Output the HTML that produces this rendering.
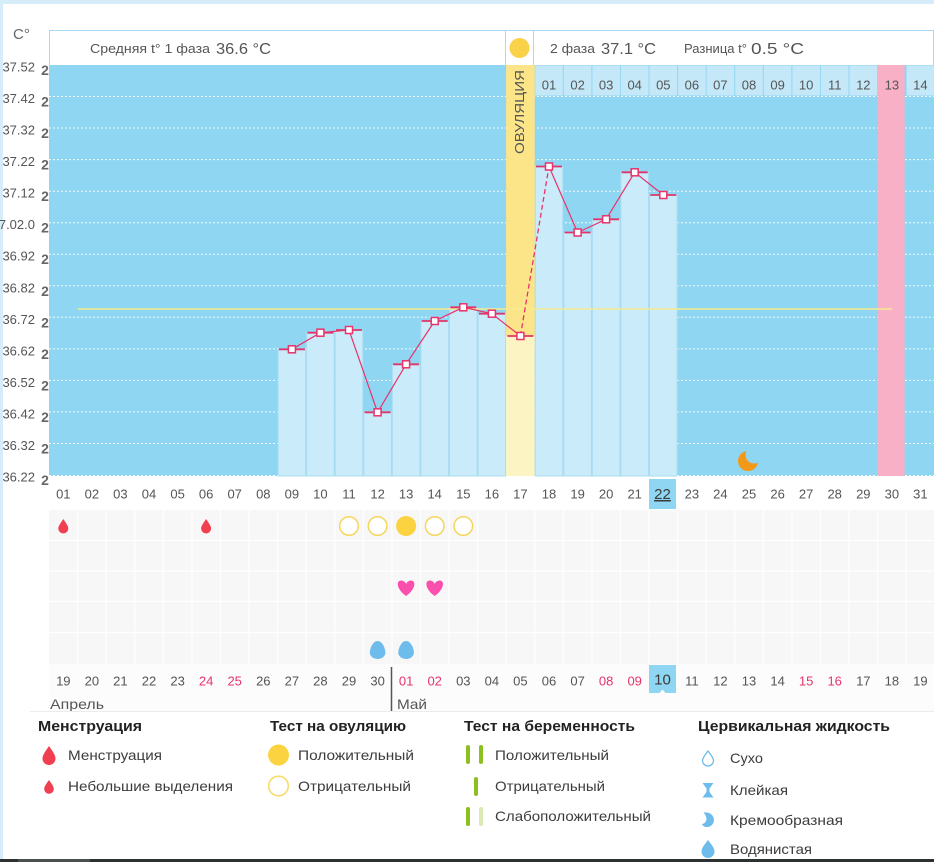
<!DOCTYPE html>
<html><head><meta charset="utf-8"><style>
html,body{margin:0;padding:0;background:#fff;}
svg{display:block;}
text{font-family:"Liberation Sans","DejaVu Sans",sans-serif;}
</style></head><body>
<svg width="934" height="862" viewBox="0 0 934 862" xmlns="http://www.w3.org/2000/svg">
<defs>
<mask id="moonm"><rect x="730" y="440" width="40" height="40" fill="#fff"/><circle cx="754" cy="455" r="8.5" fill="#000"/></mask>
</defs>
<!-- frame -->
<rect x="0" y="0" width="934" height="862" fill="#fff"/>
<rect x="0" y="0" width="934" height="4" fill="#d6edf9"/>
<rect x="0" y="0" width="3" height="859" fill="#d6edf9"/>
<rect x="0" y="859" width="934" height="3" fill="#2d3131"/>
<rect x="18" y="859" width="72" height="3" fill="#4a4f4f"/>

<!-- C° -->
<text x="13" y="39" font-size="15" fill="#666">C°</text>

<!-- header box -->
<rect x="49.5" y="30.5" width="884" height="35" fill="#fff" stroke="#a8dbf1" stroke-width="1"/>
<line x1="505.5" y1="30" x2="505.5" y2="65" stroke="#a8dbf1"/>
<line x1="533.5" y1="30" x2="533.5" y2="65" stroke="#a8dbf1"/>
<circle cx="519.5" cy="48" r="10" fill="#f9d24a"/>
<text x="90" y="53" font-size="13" fill="#555" textLength="120" lengthAdjust="spacingAndGlyphs">Средняя t° 1 фаза</text>
<text x="216" y="54" font-size="16" fill="#555" textLength="55" lengthAdjust="spacingAndGlyphs">36.6 °C</text>
<text x="550" y="53" font-size="13" fill="#555" textLength="45" lengthAdjust="spacingAndGlyphs">2 фаза</text>
<text x="601" y="54" font-size="16" fill="#555" textLength="55" lengthAdjust="spacingAndGlyphs">37.1 °C</text>
<text x="684" y="53" font-size="13" fill="#555" textLength="63" lengthAdjust="spacingAndGlyphs">Разница t°</text>
<text x="751" y="54" font-size="16" fill="#555" textLength="53" lengthAdjust="spacingAndGlyphs">0.5 °C</text>

<!-- plot background -->
<rect x="49" y="65" width="885" height="411" fill="#8fd6f2"/>

<!-- dotted grid -->
<g stroke="#ffffff" stroke-width="1" stroke-dasharray="2 2" opacity="0.9">
<line x1="49" y1="96.5" x2="934" y2="96.5"/>
<line x1="49" y1="128" x2="934" y2="128"/>
<line x1="49" y1="159.6" x2="934" y2="159.6"/>
<line x1="49" y1="191.2" x2="934" y2="191.2"/>
<line x1="49" y1="222.7" x2="934" y2="222.7"/>
<line x1="49" y1="254.2" x2="934" y2="254.2"/>
<line x1="49" y1="285.8" x2="934" y2="285.8"/>
<line x1="49" y1="317.3" x2="934" y2="317.3"/>
<line x1="49" y1="348.9" x2="934" y2="348.9"/>
<line x1="49" y1="380.4" x2="934" y2="380.4"/>
<line x1="49" y1="411.9" x2="934" y2="411.9"/>
<line x1="49" y1="443.5" x2="934" y2="443.5"/>
<line x1="49" y1="475.5" x2="934" y2="475.5"/>
</g>

<!-- pink column 30 -->
<rect x="877.6" y="65" width="27" height="411" fill="#f8b0c6"/>

<!-- phase 2 top cells -->
<g fill="#c4e8f8">
<rect x="535.2" y="65.5" width="27.6" height="30"/>
<rect x="563.8" y="65.5" width="27.6" height="30"/>
<rect x="592.4" y="65.5" width="27.6" height="30"/>
<rect x="620.9" y="65.5" width="27.6" height="30"/>
<rect x="649.5" y="65.5" width="27.6" height="30"/>
<rect x="678.1" y="65.5" width="27.6" height="30"/>
<rect x="706.6" y="65.5" width="27.6" height="30"/>
<rect x="735.2" y="65.5" width="27.6" height="30"/>
<rect x="763.8" y="65.5" width="27.6" height="30"/>
<rect x="792.4" y="65.5" width="27.6" height="30"/>
<rect x="820.9" y="65.5" width="27.6" height="30"/>
<rect x="849.5" y="65.5" width="27.6" height="30"/>
<rect x="906.6" y="65.5" width="27.4" height="30"/>
</g>
<g font-size="13" fill="#555" text-anchor="middle">
<text x="549" y="89.5">01</text>
<text x="577.6" y="89.5">02</text>
<text x="606.1" y="89.5">03</text>
<text x="634.7" y="89.5">04</text>
<text x="663.3" y="89.5">05</text>
<text x="691.9" y="89.5">06</text>
<text x="720.4" y="89.5">07</text>
<text x="749" y="89.5">08</text>
<text x="777.6" y="89.5">09</text>
<text x="806.1" y="89.5">10</text>
<text x="834.7" y="89.5">11</text>
<text x="863.3" y="89.5">12</text>
<text x="891.9" y="89.5">13</text>
<text x="920.4" y="89.5">14</text>
</g>

<!-- bars -->
<g fill="#c9ebfa" stroke="#aadcf1" stroke-width="1">
<rect x="278.1" y="349.3" width="27.6" height="126.7"/>
<rect x="306.6" y="332.7" width="27.6" height="143.3"/>
<rect x="335.2" y="330" width="27.6" height="146"/>
<rect x="363.8" y="412.3" width="27.6" height="63.7"/>
<rect x="392.4" y="364.3" width="27.6" height="111.7"/>
<rect x="420.9" y="321" width="27.6" height="155"/>
<rect x="449.5" y="307.3" width="27.6" height="168.7"/>
<rect x="478.1" y="313.7" width="27.6" height="162.3"/>
<rect x="535.2" y="166.5" width="27.6" height="309.5"/>
<rect x="563.8" y="232.5" width="27.6" height="243.5"/>
<rect x="592.4" y="219.3" width="27.6" height="256.7"/>
<rect x="620.9" y="172.3" width="27.6" height="303.7"/>
<rect x="649.5" y="195" width="27.6" height="281"/>
</g>

<!-- ovulation column -->
<rect x="506.1" y="65" width="28.6" height="271" fill="#fce589"/>
<rect x="506.1" y="336" width="28.6" height="140" fill="#fdf4c4"/>
<text transform="translate(524,112) rotate(-90)" text-anchor="middle" font-size="12.5" fill="#555" textLength="84" lengthAdjust="spacingAndGlyphs">ОВУЛЯЦИЯ</text>

<!-- cover line -->
<line x1="78" y1="309" x2="892" y2="309" stroke="#f5eb8e" stroke-width="1.6"/>

<!-- temperature line -->
<polyline points="291.9,349.3 320.4,332.7 349,330 377.6,412.3 406.1,364.3 434.7,321 463.3,307.3 491.9,313.7 520.4,336" fill="none" stroke="#e8336b" stroke-width="1.2"/>
<line x1="520.4" y1="336" x2="549" y2="166.5" stroke="#e8336b" stroke-width="1.3" stroke-dasharray="5 3"/>
<polyline points="549,166.5 577.6,232.5 606.1,219.3 634.7,172.3 663.3,195" fill="none" stroke="#e8336b" stroke-width="1.2"/>
<g stroke="#e0356a" stroke-width="1.8">
<line x1="278.9" y1="349.3" x2="304.9" y2="349.3"/>
<line x1="307.4" y1="332.7" x2="333.4" y2="332.7"/>
<line x1="336" y1="330" x2="362" y2="330"/>
<line x1="364.6" y1="412.3" x2="390.6" y2="412.3"/>
<line x1="393.1" y1="364.3" x2="419.1" y2="364.3"/>
<line x1="421.7" y1="321" x2="447.7" y2="321"/>
<line x1="450.3" y1="307.3" x2="476.3" y2="307.3"/>
<line x1="478.9" y1="313.7" x2="504.9" y2="313.7"/>
<line x1="507.4" y1="336" x2="533.4" y2="336"/>
<line x1="536" y1="166.5" x2="562" y2="166.5"/>
<line x1="564.6" y1="232.5" x2="590.6" y2="232.5"/>
<line x1="593.1" y1="219.3" x2="619.1" y2="219.3"/>
<line x1="621.7" y1="172.3" x2="647.7" y2="172.3"/>
<line x1="650.3" y1="195" x2="676.3" y2="195"/>
</g>
<g fill="#fff" stroke="#e8336b" stroke-width="1.5">
<rect x="288.4" y="345.8" width="7" height="7"/>
<rect x="316.9" y="329.2" width="7" height="7"/>
<rect x="345.5" y="326.5" width="7" height="7"/>
<rect x="374.1" y="408.8" width="7" height="7"/>
<rect x="402.6" y="360.8" width="7" height="7"/>
<rect x="431.2" y="317.5" width="7" height="7"/>
<rect x="459.8" y="303.8" width="7" height="7"/>
<rect x="488.4" y="310.2" width="7" height="7"/>
<rect x="516.9" y="332.5" width="7" height="7"/>
<rect x="545.5" y="163" width="7" height="7"/>
<rect x="574.1" y="229" width="7" height="7"/>
<rect x="602.6" y="215.8" width="7" height="7"/>
<rect x="631.2" y="168.8" width="7" height="7"/>
<rect x="659.8" y="191.5" width="7" height="7"/>
</g>

<!-- moon -->
<circle cx="748" cy="461" r="10" fill="#f29a17" mask="url(#moonm)"/>

<!-- y labels -->
<g font-size="13" fill="#555" text-anchor="end">
<text x="35" y="71.5">37.52</text>
<text x="35" y="103">37.42</text>
<text x="35" y="134.6">37.32</text>
<text x="35" y="166.1">37.22</text>
<text x="35" y="197.7">37.12</text>
<text x="35" y="229.2">7.02.0</text>
<text x="35" y="260.7">36.92</text>
<text x="35" y="292.3">36.82</text>
<text x="35" y="323.8">36.72</text>
<text x="35" y="355.4">36.62</text>
<text x="35" y="386.9">36.52</text>
<text x="35" y="418.4">36.42</text>
<text x="35" y="450">36.32</text>
<text x="35" y="481.5">36.22</text>
</g>
<g font-size="14" fill="#666" text-anchor="middle" font-weight="bold">
<text x="45" y="75">2</text>
<text x="45" y="106.5">2</text>
<text x="45" y="138">2</text>
<text x="45" y="169.6">2</text>
<text x="45" y="201.2">2</text>
<text x="45" y="232.7">2</text>
<text x="45" y="264.2">2</text>
<text x="45" y="295.8">2</text>
<text x="45" y="327.3">2</text>
<text x="45" y="358.9">2</text>
<text x="45" y="390.4">2</text>
<text x="45" y="421.9">2</text>
<text x="45" y="453.5">2</text>
<text x="45" y="485">2</text>
</g>

<!-- x axis labels -->
<rect x="649" y="479" width="27" height="30" fill="#8fd6f2"/>
<g font-size="13" fill="#555" text-anchor="middle">
<text x="63.3" y="498.5">01</text>
<text x="91.9" y="498.5">02</text>
<text x="120.4" y="498.5">03</text>
<text x="149" y="498.5">04</text>
<text x="177.6" y="498.5">05</text>
<text x="206.1" y="498.5">06</text>
<text x="234.7" y="498.5">07</text>
<text x="263.3" y="498.5">08</text>
<text x="291.9" y="498.5">09</text>
<text x="320.4" y="498.5">10</text>
<text x="349" y="498.5">11</text>
<text x="377.6" y="498.5">12</text>
<text x="406.1" y="498.5">13</text>
<text x="434.7" y="498.5">14</text>
<text x="463.3" y="498.5">15</text>
<text x="491.9" y="498.5">16</text>
<text x="520.4" y="498.5">17</text>
<text x="549" y="498.5">18</text>
<text x="577.6" y="498.5">19</text>
<text x="606.1" y="498.5">20</text>
<text x="634.7" y="498.5">21</text>
<text x="691.9" y="498.5">23</text>
<text x="720.4" y="498.5">24</text>
<text x="749" y="498.5">25</text>
<text x="777.6" y="498.5">26</text>
<text x="806.1" y="498.5">27</text>
<text x="834.7" y="498.5">28</text>
<text x="863.3" y="498.5">29</text>
<text x="891.9" y="498.5">30</text>
<text x="920.4" y="498.5">31</text>
</g>
<text x="662.5" y="499" font-size="15" fill="#3a3a3a" text-anchor="middle" text-decoration="underline">22</text>

<!-- faint grid -->
<rect x="49" y="510" width="885" height="154" fill="#f7f7f7"/>
<g stroke="#fff" stroke-width="1.2">
<line x1="49" y1="540.5" x2="934" y2="540.5"/>
<line x1="49" y1="571" x2="934" y2="571"/>
<line x1="49" y1="601.5" x2="934" y2="601.5"/>
<line x1="49" y1="632.5" x2="934" y2="632.5"/>
<line x1="77.6" y1="510" x2="77.6" y2="664"/>
<line x1="106.1" y1="510" x2="106.1" y2="664"/>
<line x1="134.7" y1="510" x2="134.7" y2="664"/>
<line x1="163.3" y1="510" x2="163.3" y2="664"/>
<line x1="191.9" y1="510" x2="191.9" y2="664"/>
<line x1="220.4" y1="510" x2="220.4" y2="664"/>
<line x1="249" y1="510" x2="249" y2="664"/>
<line x1="277.6" y1="510" x2="277.6" y2="664"/>
<line x1="306.1" y1="510" x2="306.1" y2="664"/>
<line x1="334.7" y1="510" x2="334.7" y2="664"/>
<line x1="363.3" y1="510" x2="363.3" y2="664"/>
<line x1="391.9" y1="510" x2="391.9" y2="664"/>
<line x1="420.4" y1="510" x2="420.4" y2="664"/>
<line x1="449" y1="510" x2="449" y2="664"/>
<line x1="477.6" y1="510" x2="477.6" y2="664"/>
<line x1="506.1" y1="510" x2="506.1" y2="664"/>
<line x1="534.7" y1="510" x2="534.7" y2="664"/>
<line x1="563.3" y1="510" x2="563.3" y2="664"/>
<line x1="591.9" y1="510" x2="591.9" y2="664"/>
<line x1="620.4" y1="510" x2="620.4" y2="664"/>
<line x1="649" y1="510" x2="649" y2="664"/>
<line x1="677.6" y1="510" x2="677.6" y2="664"/>
<line x1="706.1" y1="510" x2="706.1" y2="664"/>
<line x1="734.7" y1="510" x2="734.7" y2="664"/>
<line x1="763.3" y1="510" x2="763.3" y2="664"/>
<line x1="791.9" y1="510" x2="791.9" y2="664"/>
<line x1="820.4" y1="510" x2="820.4" y2="664"/>
<line x1="849" y1="510" x2="849" y2="664"/>
<line x1="877.6" y1="510" x2="877.6" y2="664"/>
<line x1="906.1" y1="510" x2="906.1" y2="664"/>
</g>
<rect x="49" y="664" width="885" height="47" fill="#fcfcfc"/>

<!-- grid icons -->
<g fill="#f03f50">
<path d="M63.3,519 C66,523 68.3,526 68.3,528.5 A5,5 0 0 1 58.3,528.5 C58.3,526 60.6,523 63.3,519 Z"/>
<path d="M206.1,519 C208.8,523 211.1,526 211.1,528.5 A5,5 0 0 1 201.1,528.5 C201.1,526 203.4,523 206.1,519 Z"/>
</g>
<g fill="#fff" stroke="#f5d65b" stroke-width="1.5">
<circle cx="349" cy="526" r="9.3"/>
<circle cx="377.6" cy="526" r="9.3"/>
<circle cx="434.7" cy="526" r="9.3"/>
<circle cx="463.3" cy="526" r="9.3"/>
</g>
<circle cx="406.1" cy="526" r="10" fill="#fbd341"/>
<g fill="#fb4fae">
<path transform="translate(406.1,588)" d="M0,8 C-10,1 -10,-7.5 -5,-7.5 C-2.2,-7.5 -0.5,-5.5 0,-4 C0.5,-5.5 2.2,-7.5 5,-7.5 C10,-7.5 10,1 0,8 Z"/>
<path transform="translate(434.7,588)" d="M0,8 C-10,1 -10,-7.5 -5,-7.5 C-2.2,-7.5 -0.5,-5.5 0,-4 C0.5,-5.5 2.2,-7.5 5,-7.5 C10,-7.5 10,1 0,8 Z"/>
</g>
<g fill="#6ebcec">
<path transform="translate(377.6,650)" d="M0,-9 C4.5,-9 7.8,-2 7.8,2.5 A7.8,6.5 0 0 1 -7.8,2.5 C-7.8,-2 -4.5,-9 0,-9 Z"/>
<path transform="translate(406.1,650)" d="M0,-9 C4.5,-9 7.8,-2 7.8,2.5 A7.8,6.5 0 0 1 -7.8,2.5 C-7.8,-2 -4.5,-9 0,-9 Z"/>
</g>

<!-- bottom dates -->
<path d="M649,665 H676 V693 H665.5 L662.5,689.5 L659.5,693 H649 Z" fill="#8fd6f2"/>
<g font-size="13" fill="#555" text-anchor="middle">
<text x="63.3" y="685.5">19</text>
<text x="91.9" y="685.5">20</text>
<text x="120.4" y="685.5">21</text>
<text x="149" y="685.5">22</text>
<text x="177.6" y="685.5">23</text>
<text x="206.1" y="685.5" fill="#e8336b">24</text>
<text x="234.7" y="685.5" fill="#e8336b">25</text>
<text x="263.3" y="685.5">26</text>
<text x="291.9" y="685.5">27</text>
<text x="320.4" y="685.5">28</text>
<text x="349" y="685.5">29</text>
<text x="377.6" y="685.5">30</text>
<text x="406.1" y="685.5" fill="#e8336b">01</text>
<text x="434.7" y="685.5" fill="#e8336b">02</text>
<text x="463.3" y="685.5">03</text>
<text x="491.9" y="685.5">04</text>
<text x="520.4" y="685.5">05</text>
<text x="549" y="685.5">06</text>
<text x="577.6" y="685.5">07</text>
<text x="606.1" y="685.5" fill="#e8336b">08</text>
<text x="634.7" y="685.5" fill="#e8336b">09</text>
<text x="691.9" y="685.5">11</text>
<text x="720.4" y="685.5">12</text>
<text x="749" y="685.5">13</text>
<text x="777.6" y="685.5">14</text>
<text x="806.1" y="685.5" fill="#e8336b">15</text>
<text x="834.7" y="685.5" fill="#e8336b">16</text>
<text x="863.3" y="685.5">17</text>
<text x="891.9" y="685.5">18</text>
<text x="920.4" y="685.5">19</text>
</g>
<text x="662.5" y="684.5" font-size="15" fill="#3a3a3a" text-anchor="middle">10</text>
<line x1="391.5" y1="667" x2="391.5" y2="712" stroke="#555" stroke-width="1.5"/>
<text x="50" y="709" font-size="14" fill="#555" textLength="54" lengthAdjust="spacingAndGlyphs">Апрель</text>
<text x="397" y="709" font-size="14" fill="#555" textLength="30" lengthAdjust="spacingAndGlyphs">Май</text>
<line x1="30" y1="711.5" x2="934" y2="711.5" stroke="#ececec" stroke-width="1"/>

<!-- legend titles -->
<g font-size="15" font-weight="bold" fill="#222">
<text x="38" y="731" textLength="104" lengthAdjust="spacingAndGlyphs">Менструация</text>
<text x="270" y="731" textLength="136" lengthAdjust="spacingAndGlyphs">Тест на овуляцию</text>
<text x="464" y="731" textLength="171" lengthAdjust="spacingAndGlyphs">Тест на беременность</text>
<text x="698" y="731" textLength="192" lengthAdjust="spacingAndGlyphs">Цервикальная жидкость</text>
</g>
<g font-size="14" fill="#3c3c3c">
<text x="68" y="760" textLength="94" lengthAdjust="spacingAndGlyphs">Менструация</text>
<text x="68" y="791" textLength="165" lengthAdjust="spacingAndGlyphs">Небольшие выделения</text>
<text x="298" y="760" textLength="116" lengthAdjust="spacingAndGlyphs">Положительный</text>
<text x="298" y="791" textLength="113" lengthAdjust="spacingAndGlyphs">Отрицательный</text>
<text x="495" y="760" textLength="114" lengthAdjust="spacingAndGlyphs">Положительный</text>
<text x="495" y="791" textLength="110" lengthAdjust="spacingAndGlyphs">Отрицательный</text>
<text x="495" y="821" textLength="156" lengthAdjust="spacingAndGlyphs">Слабоположительный</text>
<text x="730" y="763" textLength="33" lengthAdjust="spacingAndGlyphs">Сухо</text>
<text x="730" y="795" textLength="58" lengthAdjust="spacingAndGlyphs">Клейкая</text>
<text x="730" y="825" textLength="113" lengthAdjust="spacingAndGlyphs">Кремообразная</text>
<text x="730" y="854" textLength="82" lengthAdjust="spacingAndGlyphs">Водянистая</text>
</g>

<!-- legend icons -->
<g fill="#f03f50">
<path d="M49,746 C52.5,751 55.5,755 55.5,758.5 A6.5,6.5 0 0 1 42.5,758.5 C42.5,755 45.5,751 49,746 Z"/>
<path d="M49,780 C51.5,783.5 53.8,786.5 53.8,789 A4.8,4.8 0 0 1 44.2,789 C44.2,786.5 46.5,783.5 49,780 Z"/>
</g>
<circle cx="278.5" cy="755" r="10.5" fill="#fbd341"/>
<circle cx="278.5" cy="786" r="9.8" fill="#fff" stroke="#f7dc6c" stroke-width="1.6"/>
<g fill="#8cc01e">
<rect x="466" y="745" width="4" height="19" rx="2"/>
<rect x="479" y="745" width="4" height="19" rx="2"/>
<rect x="474" y="777" width="4" height="19" rx="2"/>
<rect x="466" y="807" width="4" height="19" rx="2"/>
</g>
<rect x="479" y="807" width="4" height="19" rx="2" fill="#dce8b5"/>
<path d="M708,751 C711,755 713.5,758 713.5,760.5 A5.5,5.5 0 0 1 702.5,760.5 C702.5,758 705,755 708,751 Z" fill="#fff" stroke="#6ebcec" stroke-width="1.3"/>
<path d="M702.5,783 H713.5 L709.5,788.5 V792 L713.5,797.5 H702.5 L706.5,792 V788.5 Z" fill="#6ebcec"/>
<path d="M703.5,812.5 C711,811.5 715.5,817 713.5,822.5 C711.5,828 703.5,828.5 702,824 C706.5,823.5 708.5,818 703.5,812.5 Z" fill="#6ebcec"/>
<path d="M708,840 C711.5,844.5 714.5,848 714.5,851.5 A6.5,6.5 0 0 1 701.5,851.5 C701.5,848 704.5,844.5 708,840 Z" fill="#6ebcec"/>
</svg>
</body></html>
